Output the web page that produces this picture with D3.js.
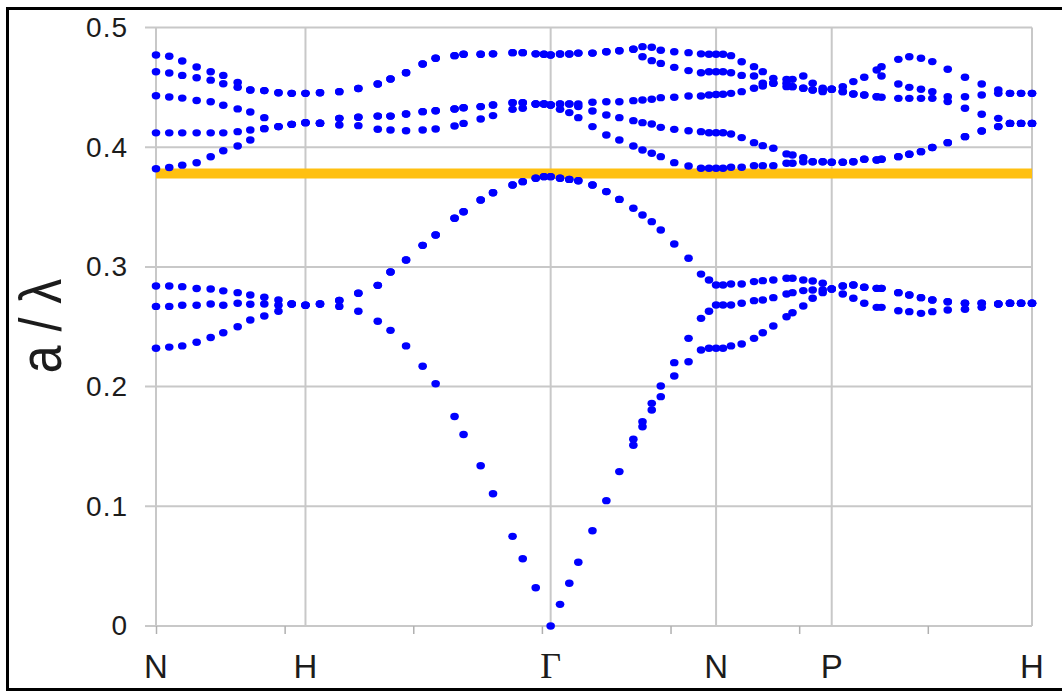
<!DOCTYPE html>
<html>
<head>
<meta charset="utf-8">
<script src="https://cdn.jsdelivr.net/npm/d3@7"></script>
<style>
  html, body { margin: 0; padding: 0; background: #fff; }
  svg { display: block; }
</style>
</head>
<body>
<svg id="chart" width="1062" height="691"></svg>
<script>
// k-path coordinate of every computed k-point (N-H-Γ-N-P-H)
const kPath = [0, 0.103, 0.204, 0.316, 0.425, 0.523, 0.635, 0.733, 0.842, 0.952, 1.055, 1.162,
  1.275, 1.425, 1.573, 1.724, 1.823, 1.944, 2.073, 2.174, 2.321, 2.391, 2.524, 2.620, 2.772, 2.851, 2.952, 3.016, 3.068,
  3.141, 3.213, 3.283, 3.393, 3.501, 3.602, 3.711, 3.782, 3.854, 3.924, 4.029, 4.140, 4.237, 4.299, 4.354,
  4.408, 4.470, 4.553, 4.649, 4.717, 4.799, 4.902, 4.948, 5.032, 5.105, 5.183, 5.253,
  5.339, 5.421, 5.506, 5.603, 5.640, 5.771, 5.856, 5.947, 6.035, 6.155, 6.289, 6.419, 6.548, 6.639, 6.725, 6.810];

// normalized frequency a/λ of the eight lowest bands, sorted at each k-point
const band1 = [0.232, 0.233, 0.234, 0.237, 0.241, 0.245, 0.250, 0.2556, 0.259, 0.263, 0.269, 0.268,
  0.269, 0.267, 0.263, 0.2546, 0.247, 0.234, 0.217, 0.2024, 0.175, 0.160, 0.1339, 0.1105, 0.0749, 0.0562, 0.032, null, 0,
  0.0181, 0.0357, 0.0532, 0.0796, 0.1047, 0.129, 0.151, 0.1665, 0.1805, 0.1916, 0.2089, 0.2208, 0.2306, 0.232, 0.232,
  0.232, 0.234, 0.2356, 0.2403, 0.245, 0.2506, 0.2584, 0.2617, 0.2673, 0.2738, 0.2785, 0.2815,
  0.2774, 0.2738, 0.2696, 0.2662, 0.2662, 0.2634, 0.2626, 0.2612, 0.2626, 0.264, 0.2646, 0.2662, 0.269, 0.2696, 0.2696, 0.2696];
const band2 = [0.267, 0.267, 0.268, 0.268, 0.269, 0.268, 0.2696, 0.2688, 0.269, 0.268, 0.269, 0.268,
  0.269, 0.272, 0.278, 0.2846, 0.2957, 0.3058, 0.318, 0.3267, 0.3406, 0.3461, 0.3559, 0.362, 0.3684, 0.3712, 0.374, 0.3754, 0.3754,
  0.374, 0.3731, 0.372, 0.3684, 0.3629, 0.3564, 0.156, 0.1707, 0.186, 0.2005, 0.220, 0.2403, 0.257, 0.263, 0.2682,
  0.2682, 0.2682, 0.2696, 0.2718, 0.2723, 0.2743, 0.2774, 0.2785, 0.2802, 0.2807, 0.2807, 0.2815,
  0.284, 0.2849, 0.283, 0.2821, 0.2821, 0.2785, 0.2765, 0.2743, 0.2723, 0.2709, 0.2696, 0.2696, 0.269, 0.2696, 0.2696, 0.2696];
const band3 = [0.284, 0.284, 0.2835, 0.282, 0.2815, 0.280, 0.2785, 0.2765, 0.2746, 0.2723, 0.269, 0.268,
  0.269, 0.272, 0.278, 0.2846, 0.2957, 0.3058, 0.318, 0.3267, 0.3406, 0.3461, 0.3559, 0.362, 0.3684, 0.3712, 0.374, 0.3754, 0.3754,
  0.374, 0.3731, 0.372, 0.3684, 0.3629, 0.3564, 0.349, 0.3434, 0.3378, 0.3308, 0.3191, 0.3072, 0.294, 0.289, 0.2849,
  0.2849, 0.2857, 0.2857, 0.2877, 0.2885, 0.289, 0.2905, 0.2905, 0.289, 0.2882, 0.2863, 0.2815,
  0.284, 0.2849, 0.283, 0.2821, 0.2821, 0.2785, 0.2765, 0.2743, 0.2723, 0.2709, 0.2696, 0.2696, 0.269, 0.2696, 0.2696, 0.2696];
const band4 = [0.382, 0.383, 0.385, 0.387, 0.392, 0.397, 0.401, 0.406, 0.4155, 0.4172, 0.4191, 0.4205,
  0.420, 0.4186, 0.418, 0.415, 0.4144, 0.4138, 0.4144, 0.4152, 0.4177, 0.4199, 0.4236, 0.4264, 0.4316, 0.4325, 0.4361, 0.4361, 0.4352,
  0.4316, 0.4289, 0.4247, 0.4172, 0.4102, 0.406, 0.401, 0.3977, 0.3949, 0.3921, 0.3871, 0.3843, 0.3824, 0.3824, 0.3824,
  0.3824, 0.3832, 0.3832, 0.3846, 0.3846, 0.3846, 0.3866, 0.3866, 0.3879, 0.3879, 0.3879, 0.3874,
  0.3874, 0.3879, 0.3899, 0.3893, 0.3899, 0.3921, 0.3941, 0.3963, 0.3997, 0.4038, 0.4088, 0.4135, 0.4172, 0.4199, 0.4199, 0.4199];
const band5 = [0.412, 0.412, 0.412, 0.412, 0.412, 0.412, 0.413, 0.4144, 0.4155, 0.4172, 0.4191, 0.4205,
  0.420, 0.4241, 0.425, 0.426, 0.426, 0.4277, 0.4297, 0.4305, 0.4319, 0.433, 0.4339, 0.4352, 0.4372, 0.4372, 0.4361, 0.4361, 0.4352,
  0.4361, 0.4361, 0.4339, 0.4302, 0.4269, 0.4247, 0.4222, 0.4205, 0.4194, 0.4166, 0.4149, 0.4138, 0.413, 0.4121, 0.4121,
  0.4121, 0.411, 0.408, 0.4038, 0.4013, 0.3991, 0.3944, 0.3935, 0.3913, 0.3879, 0.3879, 0.3874,
  0.3874, 0.3879, 0.3899, 0.3893, 0.3899, 0.3921, 0.3941, 0.3963, 0.3997, 0.4038, 0.4088, 0.4135, 0.4172, 0.4199, 0.4199, 0.4199];
const band6 = [0.443, 0.442, 0.441, 0.439, 0.438, 0.435, 0.432, 0.4294, 0.4247, 0.4172, 0.4191, 0.4205,
  0.420, 0.4241, 0.425, 0.426, 0.426, 0.4277, 0.4297, 0.4305, 0.4319, 0.433, 0.4339, 0.4352, 0.4372, 0.4372, 0.4361, 0.4361, 0.4352,
  0.4361, 0.4361, 0.4361, 0.4375, 0.438, 0.438, 0.4389, 0.4394, 0.44, 0.4414, 0.4417, 0.4428, 0.4428, 0.4436, 0.444,
  0.4442, 0.445, 0.4464, 0.4492, 0.4511, 0.4534, 0.4506, 0.4506, 0.4492, 0.4478, 0.4464, 0.4484,
  0.4464, 0.4445, 0.4436, 0.4422, 0.4417, 0.4408, 0.4408, 0.4408, 0.4408, 0.4381, 0.4325, 0.4275, 0.4241, 0.4199, 0.4199, 0.4199];
const band7 = [0.463, 0.462, 0.460, 0.458, 0.456, 0.453, 0.450, 0.4478, 0.4473, 0.4455, 0.445, 0.445,
  0.4455, 0.4464, 0.449, 0.4528, 0.457, 0.4622, 0.4695, 0.4743, 0.4765, 0.4776, 0.4776, 0.478, 0.479, 0.479, 0.478, 0.4776, 0.477,
  0.4778, 0.4778, 0.4786, 0.4786, 0.4798, 0.4806, 0.4818, 0.4756, 0.4723, 0.470, 0.4667, 0.464, 0.4622, 0.463, 0.463,
  0.463, 0.4622, 0.460, 0.4595, 0.4534, 0.4534, 0.4534, 0.4506, 0.4492, 0.4478, 0.4478, 0.4484,
  0.4464, 0.4445, 0.4436, 0.4422, 0.4595, 0.4528, 0.450, 0.4484, 0.4464, 0.4422, 0.4422, 0.4436, 0.445, 0.445, 0.445, 0.445];
const band8 = [0.477, 0.476, 0.472, 0.467, 0.463, 0.460, 0.454, 0.4478, 0.4473, 0.4455, 0.445, 0.445,
  0.4455, 0.4464, 0.449, 0.4528, 0.457, 0.4622, 0.4695, 0.4743, 0.4765, 0.4776, 0.4776, 0.478, 0.479, 0.479, 0.478, 0.4776, 0.477,
  0.4778, 0.4778, 0.4786, 0.4786, 0.4798, 0.4806, 0.4818, 0.484, 0.4835, 0.481, 0.4798, 0.479, 0.478, 0.4776, 0.4776,
  0.4776, 0.4765, 0.4714, 0.4673, 0.4631, 0.4575, 0.4567, 0.4567, 0.4595, 0.4534, 0.4492, 0.4484,
  0.4506, 0.4548, 0.4584, 0.4645, 0.4673, 0.4734, 0.4756, 0.4743, 0.4715, 0.4651, 0.4584, 0.4528, 0.4478, 0.445, 0.445, 0.445];

const bands = [band1, band2, band3, band4, band5, band6, band7, band8];

// high-symmetry points along the path
const symLabels = ["N", "H", "Γ", "N", "P", "H"];
const symPos = [0, 1.162, 3.068, 4.354, 5.253, 6.81];

// axis ticks
const yTicks = [0, 0.1, 0.2, 0.3, 0.4, 0.5];
const kTicks = [0, 1, 2, 3, 4, 5, 6];

// upper edge of the band gap
const gapEdge = [0.378];

const svg = d3.select("#chart");
const x = d3.scaleLinear().domain([0, 6.81]).range([156, 1032]);
const y = d3.scaleLinear().domain([0, 0.5]).range([626, 27.5]);

const gridColor = "#c8c8c8";
const textColor = "#1c1c1c";
const sans = "'Liberation Sans', Arial, sans-serif";

// outer frame
svg.append("rect")
  .attr("x", 7.5).attr("y", 8.5)
  .attr("width", 1100).attr("height", 681)
  .attr("fill", "none").attr("stroke", "#000").attr("stroke-width", 3);

// horizontal grid
svg.append("g").selectAll("line").data(yTicks).join("line")
  .attr("x1", 145).attr("x2", x(6.81))
  .attr("y1", d => y(d)).attr("y2", d => y(d))
  .attr("stroke", gridColor).attr("stroke-width", 2);

// vertical grid at high-symmetry points
svg.append("g").selectAll("line").data(symPos).join("line")
  .attr("x1", d => x(d)).attr("x2", d => x(d))
  .attr("y1", y(0.5)).attr("y2", y(0))
  .attr("stroke", gridColor).attr("stroke-width", 2);

// small bottom ticks
const xAxis = d3.axisBottom(x).tickValues(kTicks).tickSize(8).tickFormat("");
const gx = svg.append("g").attr("transform", `translate(0,${y(0)})`).call(xAxis);
gx.select(".domain").remove();
gx.selectAll(".tick line").attr("stroke", "#b0b0b0").attr("stroke-width", 1.5);

// y tick labels
const yAxis = d3.axisLeft(y).tickValues(yTicks).tickSize(0).tickPadding(28)
  .tickFormat(d => d === 0 ? "0" : d.toFixed(1));
const gy = svg.append("g").attr("transform", `translate(156,0)`).call(yAxis);
gy.select(".domain").remove();
gy.selectAll(".tick text")
  .attr("font-family", sans).attr("font-size", 28)
  .attr("letter-spacing", 1)
  .attr("fill", textColor);

// high-symmetry labels
svg.append("g").selectAll("text").data(symLabels).join("text")
  .attr("x", (d, i) => x(symPos[i]))
  .attr("y", 678)
  .attr("text-anchor", "middle")
  .attr("font-family", d => d === "Γ" ? "'Liberation Serif', 'Times New Roman', serif" : sans)
  .attr("font-size", d => d === "Γ" ? 36 : 33)
  .attr("fill", textColor)
  .text(d => d);

// y axis title
svg.append("text")
  .attr("transform", "translate(61,326) scale(1.17,1) rotate(-90)")
  .attr("text-anchor", "middle")
  .attr("font-family", sans).attr("font-size", 50)
  .attr("fill", textColor)
  .text("a / λ");

// band gap edge
svg.append("g").selectAll("line").data(gapEdge).join("line")
  .attr("x1", x(0)).attr("x2", x(6.81))
  .attr("y1", d => y(d)).attr("y2", d => y(d))
  .attr("stroke", "#ffc010").attr("stroke-width", 10);

// band points
const pts = [];
bands.forEach(b => b.forEach((v, i) => { if (v !== null) pts.push([kPath[i], v]); }));
svg.append("g").selectAll("ellipse").data(pts).join("ellipse")
  .attr("cx", d => x(d[0])).attr("cy", d => y(d[1]))
  .attr("rx", 4.3).attr("ry", 3.7)
  .attr("fill", "#0000ff");
</script>
</body>
</html>
